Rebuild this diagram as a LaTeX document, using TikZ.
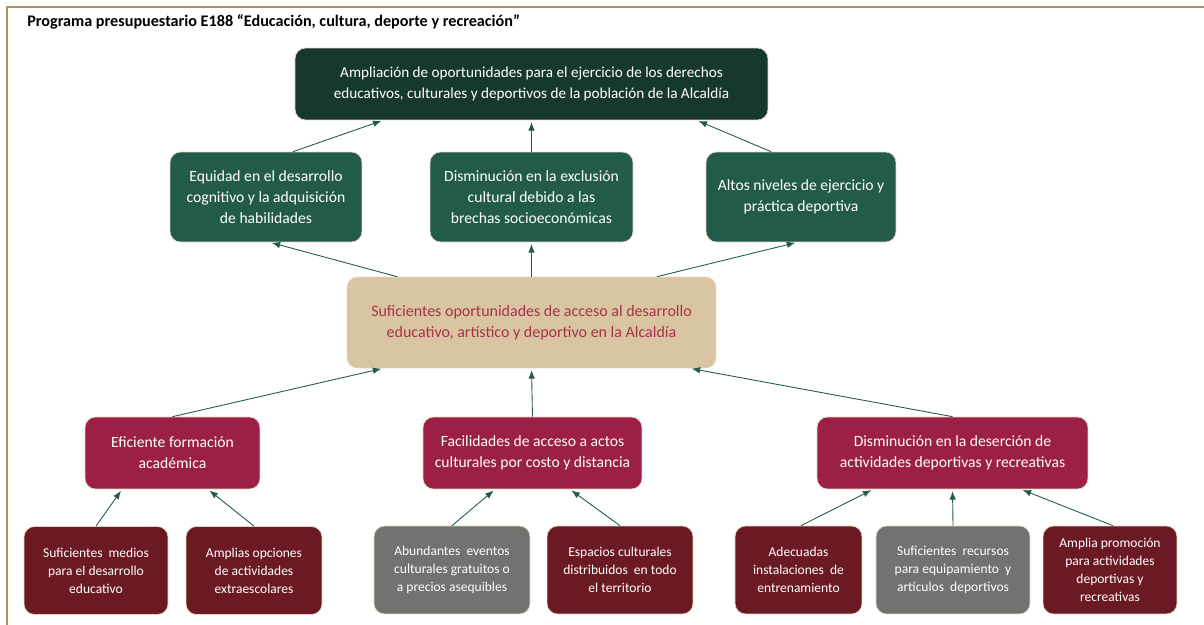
\documentclass[tikz,border=0pt]{standalone}
\usepackage{fontspec}
\setmainfont{Carlito}
\usepackage{tikz}
\usetikzlibrary{arrows.meta, positioning}

\definecolor{topgreen}{HTML}{17382F}
\definecolor{midgreen}{HTML}{235B4B}
\definecolor{tanfill}{HTML}{D9C5A1}
\definecolor{tantext}{HTML}{A8324E}
\definecolor{redfill}{HTML}{9C1F45}
\definecolor{leafred}{HTML}{6B1A23}
\definecolor{leafgrey}{HTML}{717370}
\definecolor{framegold}{HTML}{B0915E}
\definecolor{boxedge}{HTML}{E3D6BD}

\tikzset{
    basebox/.style={rounded corners=6pt, draw=boxedge, line width=0.4pt, align=center, inner sep=2pt},
    topbox/.style={basebox, fill=topgreen, text=white, font=\fontsize{8.65}{12}\selectfont, minimum width=9.46cm, minimum height=1.44cm},
    greenbox/.style={basebox, fill=midgreen, text=white, font=\fontsize{8.9}{12}\selectfont, minimum height=1.8cm},
    tanbox/.style={basebox, fill=tanfill, text=tantext, font=\fontsize{9.1}{12.2}\selectfont, minimum width=7.38cm, minimum height=1.82cm},
    redbox/.style={basebox, fill=redfill, text=white, font=\fontsize{8.9}{12}\selectfont, minimum height=1.44cm},
    leafbox/.style={basebox, fill=leafred, text=white, font=\fontsize{7.7}{10.3}\selectfont, minimum height=1.76cm},
    greybox/.style={leafbox, fill=leafgrey},
    link/.style={draw=midgreen, line width=0.5pt, -{Latex[length=1.7mm,width=1.3mm]}, shorten >=1pt},
}

\begin{document}
\begin{tikzpicture}[x=0.02cm, y=-0.02cm]
    \useasboundingbox (0,0) rectangle (1204,625);

    % frame and title
    \draw[framegold, line width=1.1pt] (7,625) -- (7,7) -- (1204,7);
    \node[anchor=west, font=\bfseries\fontsize{9.2}{11}\selectfont, inner sep=0pt] (title) at (27,22)
        {Programa presupuestario E188 “Educación, cultura, deporte y recreación”};

    % fin
    \node[topbox] (fin) at (531.5,84)
        {Ampliación de oportunidades para el ejercicio de los derechos\\educativos, culturales y deportivos de la población de la Alcaldía};

    % efectos
    \node[greenbox, minimum width=3.84cm] (efecto1) at (266,197)
        {Equidad en el desarrollo\\cognitivo y la adquisición\\de habilidades};
    \node[greenbox, minimum width=4.06cm] (efecto2) at (531.5,197)
        {Disminución en la exclusión\\cultural debido a las\\brechas socioeconómicas};
    \node[greenbox, minimum width=3.8cm] (efecto3) at (801,197)
        {Altos niveles de ejercicio y\\práctica deportiva};

    % proposito
    \node[tanbox] (proposito) at (531.5,322.5)
        {Suficientes oportunidades de acceso al desarrollo\\educativo, artístico y deportivo en la Alcaldía};

    % componentes
    \node[redbox, minimum width=3.5cm] (comp1) at (172.5,453)
        {Eficiente formación\\académica};
    \node[redbox, minimum width=4.38cm] (comp2) at (532.5,453)
        {Facilidades de acceso a actos\\culturales por costo y distancia};
    \node[redbox, minimum width=5.42cm] (comp3) at (952.5,453)
        {Disminución en la deserción de\\actividades deportivas y recreativas};

    % actividades
    \node[leafbox, minimum width=2.88cm] (act1) at (96,570.5)
        {Suficientes \ medios\\para el desarrollo\\educativo};
    \node[leafbox, minimum width=2.72cm] (act2) at (254,570.5)
        {Amplias opciones\\de actividades\\extraescolares};
    \node[greybox, minimum width=3.12cm] (act3) at (452,570)
        {Abundantes \ eventos\\culturales gratuitos o\\a precios asequibles};
    \node[leafbox, minimum width=2.92cm] (act4) at (620,570)
        {Espacios culturales\\distribuidos \ en todo\\el territorio};
    \node[leafbox, minimum width=2.54cm] (act5) at (798.5,570)
        {Adecuadas\\instalaciones \ de\\entrenamiento};
    \node[greybox, minimum width=3.08cm] (act6) at (953,570)
        {Suficientes \ recursos\\para equipamiento \ y\\artículos \ deportivos};
    \node[leafbox, minimum width=2.68cm] (act7) at (1110,570)
        {Amplia promoción\\para actividades\\deportivas y\\recreativas};

    % efectos -> fin
    \draw[link] ([xshift=0.54cm]efecto1.north) -- ([xshift=-2.97cm]fin.south);
    \draw[link] (efecto2.north) -- (fin.south);
    \draw[link] ([xshift=-0.6cm]efecto3.north) -- ([xshift=3.31cm]fin.south);

    % proposito -> efectos
    \draw[link] ([xshift=-2.69cm]proposito.north) -- ([xshift=0.08cm]efecto1.south);
    \draw[link] (proposito.north) -- (efecto2.south);
    \draw[link] ([xshift=2.51cm]proposito.north) -- ([xshift=-0.08cm]efecto3.south);

    % componentes -> proposito
    \draw[link] (comp1.north) -- ([xshift=-2.97cm]proposito.south);
    \draw[link] (comp2.north) -- (proposito.south);
    \draw[link] (comp3.north) -- ([xshift=3.17cm]proposito.south);

    % actividades -> componentes
    \draw[link] (act1.north) -- ([xshift=-1.01cm]comp1.south);
    \draw[link] (act2.north) -- ([xshift=0.71cm]comp1.south);
    \draw[link] (act3.north) -- ([xshift=-0.75cm]comp2.south);
    \draw[link] (act4.north) -- ([xshift=0.75cm]comp2.south);
    \draw[link] ([xshift=0.05cm]act5.north) -- ([xshift=-1.59cm]comp3.south);
    \draw[link] (act6.north) -- (comp3.south);
    \draw[link] ([xshift=0.06cm]act7.north) -- ([xshift=1.37cm]comp3.south);
\end{tikzpicture}
\end{document}
